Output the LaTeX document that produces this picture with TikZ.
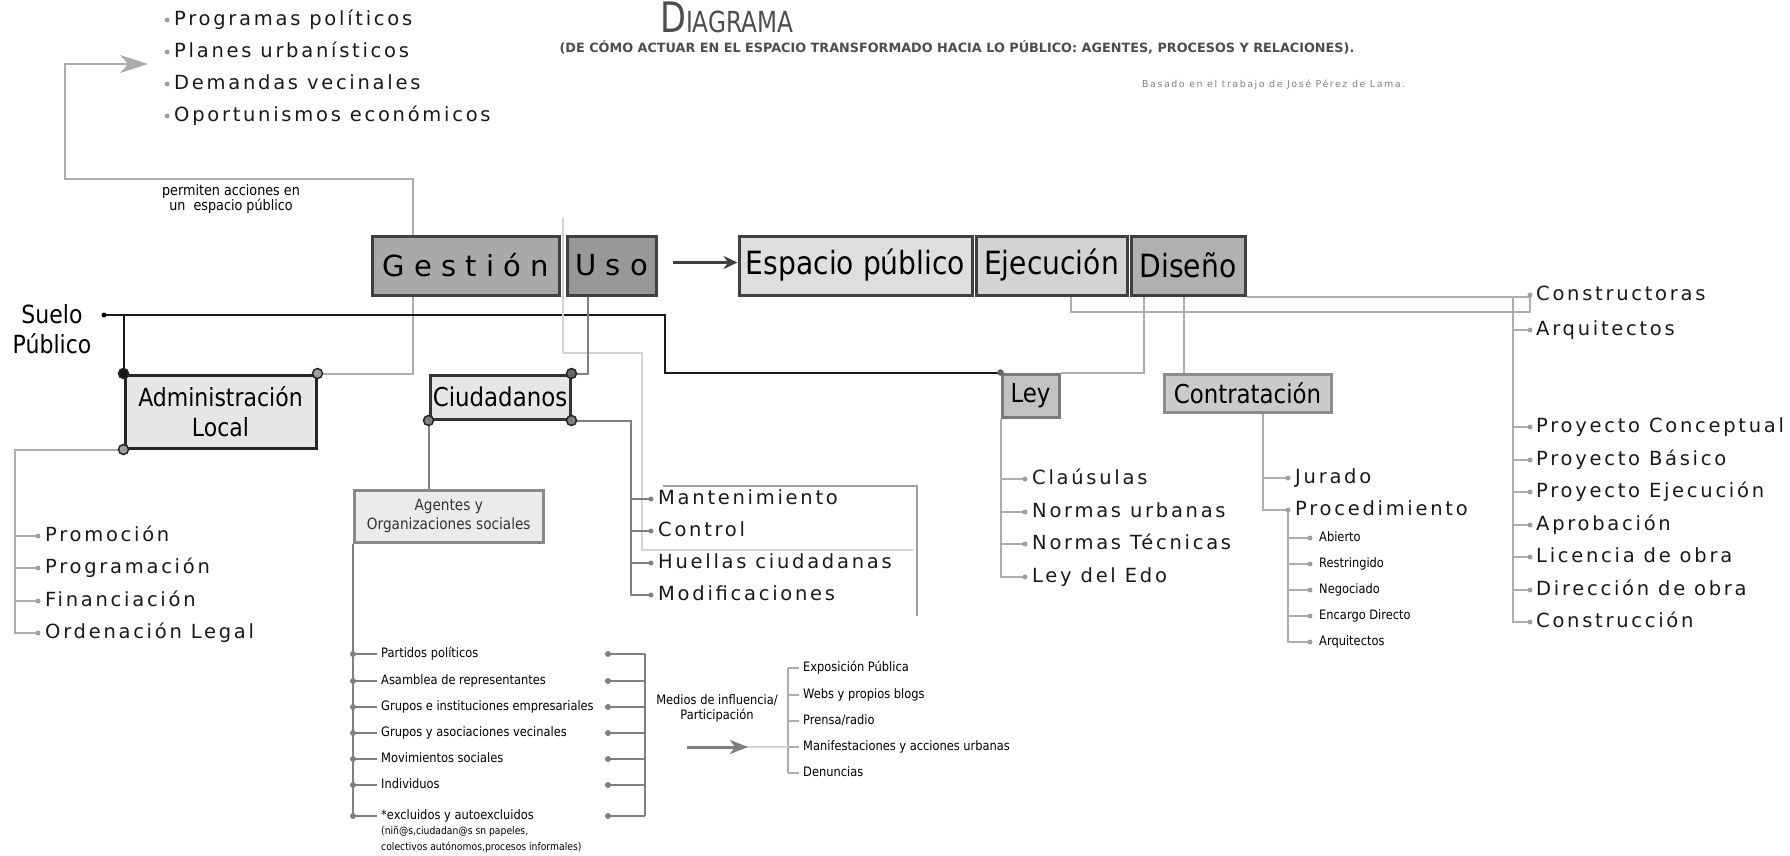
\documentclass[tikz,border=0pt]{standalone}
\usepackage{fontspec}
\setmainfont{DejaVu Sans}
\newfontfamily\spacedfont[LetterSpace=14]{DejaVu Sans}
\newfontfamily\narrowfont[FakeStretch=0.88]{DejaVu Sans}
\newfontfamily\titlefont[FakeStretch=0.8]{DejaVu Sans}
\newfontfamily\basadofont[LetterSpace=16]{DejaVu Sans}
\usetikzlibrary{arrows.meta,calc}

\definecolor{boxline}{HTML}{404040}
\definecolor{gestfill}{HTML}{A9A9A9}
\definecolor{usofill}{HTML}{989898}
\definecolor{espfill}{HTML}{DEDEDE}
\definecolor{ejefill}{HTML}{D3D3D3}
\definecolor{disfill}{HTML}{B0B0B0}
\definecolor{palefill}{HTML}{E6E6E6}
\definecolor{agfill}{HTML}{EBEBEB}
\definecolor{agline}{HTML}{8A8A8A}
\definecolor{leyfill}{HTML}{C2C2C2}
\definecolor{leyline}{HTML}{7A7A7A}
\definecolor{contfill}{HTML}{CACACA}
\definecolor{contline}{HTML}{8C8C8C}
\definecolor{linegray}{HTML}{ADADAD}
\definecolor{midgray}{HTML}{7F7F7F}
\definecolor{palegray}{HTML}{D4D4D4}
\definecolor{bulgray}{HTML}{A0A0A0}
\definecolor{textgray}{HTML}{4D4D4D}

\begin{document}
\begin{tikzpicture}[x=1pt,y=-1pt,
  box/.style={draw=boxline,line width=3pt,inner sep=0pt,font=\narrowfont\fontsize{32}{32}\selectfont},
  item/.style={anchor=west,inner xsep=7pt,inner ysep=0pt,text height=14pt,text depth=4pt,text=black!90,font=\spacedfont\fontsize{19.5}{21}\selectfont},
  smallitem/.style={anchor=west,inner xsep=4pt,inner ysep=0pt,text height=10pt,text depth=3pt,font=\narrowfont\fontsize{13}{15}\selectfont},
  grayline/.style={draw=linegray,line width=2pt},
  midline/.style={draw=midgray,line width=2pt},
  paleline/.style={draw=palegray,line width=1.2pt},
  blackline/.style={draw=black!90,line width=2pt},
  corner/.style={draw=black!85,line width=1.5pt,fill=#1},
  corner/.default=midgray]

\useasboundingbox (0,0) rectangle (1790,855);

\node[anchor=base west,inner sep=0pt,text=textgray,font=\titlefont] (titulo) at (660,32)
  {\fontsize{42}{42}\selectfont D\fontsize{29}{29}\selectfont IAGRAMA};
\node[anchor=base,inner sep=0pt,text=textgray,font=\bfseries\fontsize{12.8}{14}\selectfont] (subtitulo) at (957,52)
  {(DE CÓMO ACTUAR EN EL ESPACIO TRANSFORMADO HACIA LO PÚBLICO: AGENTES, PROCESOS Y RELACIONES).};
\node[anchor=base west,inner sep=0pt,text=gray,font=\basadofont\fontsize{9.5}{10}\selectfont] (basado) at (1142,87)
  {Basado en el trabajo de José Pérez de Lama.};

\node[item] (progpol) at (167,20) {Programas políticos};
\node[item] (planes) at (167,52) {Planes urbanísticos};
\node[item] (demandas) at (167,84) {Demandas vecinales};
\node[item] (oport) at (167,116) {Oportunismos económicos};
\foreach \n in {progpol,planes,demandas,oport}
  \fill[bulgray] (\n.west) circle (2.5pt);
\coordinate (listtip) at (148,64);

\node[align=center,inner sep=0pt,font=\narrowfont\fontsize{14.5}{15}\selectfont] (permiten) at (231,199)
  {permiten acciones en\\un~ espacio público};

\node[box,fill=gestfill,minimum width=187pt,minimum height=59pt,font=\fontsize{29}{29}\selectfont] (gestion) at (465.5,265.5) {G e s t i ó n};
\node[box,fill=usofill,minimum width=89pt,minimum height=59pt,font=\fontsize{29}{29}\selectfont] (uso) at (611.5,265.5) {U s o};
\node[box,fill=espfill,minimum width=233pt,minimum height=59pt] (espacio) at (855.5,265.5) {Espacio público};
\node[box,fill=ejefill,minimum width=151pt,minimum height=59pt] (ejecucion) at (1051.5,265.5) {Ejecución};
\node[box,fill=disfill,minimum width=114pt,minimum height=59pt] (diseno) at (1188,265.5) {Diseño};

\draw[line width=3pt,draw=boxline,-{Stealth[length=14pt,width=13pt]}] ([xshift=15pt,yshift=3pt]uso.east) -- ([yshift=3pt]espacio.west);

\node[align=center,inner sep=0pt,font=\narrowfont\fontsize{25}{30}\selectfont] (suelo) at (52,329) {Suelo\\Público};
\coordinate (sdot) at (104,315);
\coordinate (bend) at (665,315);

\node[box,fill=palefill,draw=black!85,minimum width=191pt,minimum height=73pt,align=center,font=\narrowfont\fontsize{25}{30}\selectfont] (admin) at (220.5,411.5) {Administración\\Local};
\node[box,fill=palefill,draw=black!80,minimum width=140pt,minimum height=44pt,font=\narrowfont\fontsize{26}{26}\selectfont] (ciud) at (500,397) {Ciudadanos};
\node[box,fill=agfill,draw=agline,minimum width=188.5pt,minimum height=52pt,align=center,text=black!80,font=\narrowfont\fontsize{15.5}{19}\selectfont] (agentes) at (448.75,516) {Agentes y\\Organizaciones sociales};
\node[box,fill=leyfill,draw=leyline,minimum width=57pt,minimum height=43pt,font=\narrowfont\fontsize{26}{26}\selectfont] (ley) at (1030.5,395.5) {Ley};
\node[box,fill=contfill,draw=contline,minimum width=167pt,minimum height=38pt,font=\narrowfont\fontsize{26}{26}\selectfont] (cont) at (1247.5,393) {Contratación};

\draw[grayline] (admin.north east) -| ([xshift=-52.5pt]gestion.south);
\draw[grayline,-{Stealth[length=28pt,width=18pt,inset=8pt]}] ([xshift=-52.5pt]gestion.north) -- ++(0,-56) -- ++(-348,0) |- (listtip);

\draw[blackline] (sdot) -- (bend) |- (ley.north west);
\draw[blackline] (sdot -| admin.north west) -- (admin.north west);
\fill (sdot) circle (2.5pt);
\filldraw[draw=black!60,fill=black!60] (ley.north west) circle (3pt);
\filldraw[corner=black!90] (admin.north west) circle (5pt);
\filldraw[corner=bulgray] (admin.north east) circle (5pt);

\draw[paleline] (563,218) -- (563,353) -- (642,353) -- (642,550) -- (913,550);
\draw[draw=gray!75,line width=1.5pt] (663,486) -- (917,486) -- (917,616);

\node[item] (prom) at (38,536) {Promoción};
\node[item] (progr) at (38,568) {Programación};
\node[item] (fin) at (38,601) {Financiación};
\node[item] (orden) at (38,633) {Ordenación Legal};
\coordinate (ax) at (15,0);
\foreach \n in {prom,progr,fin,orden}{
  \draw[grayline] (admin.south west) -| (ax |- \n.west) -- (\n.west);
  \fill[bulgray] (\n.west) circle (2.5pt);
}
\filldraw[corner=bulgray] (admin.south west) circle (5pt);

\node[item] (mant) at (651,499) {Mantenimiento};
\node[item] (ctrl) at (651,531) {Control};
\node[item] (huellas) at (651,563) {Huellas ciudadanas};
\node[item] (modif) at (651,595) {Modificaciones};
\draw[midline] ([xshift=-24pt]uso.south) |- (ciud.north east);
\draw[midline] (ciud.south west) -- (ciud.south west |- agentes.north);
\foreach \n in {mant,ctrl,huellas,modif}{
  \draw[midline] (ciud.south east) -- ++(59,0) |- (\n.west);
  \fill[midgray] (\n.west) circle (2.5pt);
}
\filldraw[corner=black!60] (ciud.north east) circle (5pt);
\filldraw[corner=midgray] (ciud.south west) circle (5pt);
\filldraw[corner=midgray] (ciud.south east) circle (5pt);

\node[smallitem] (partidos) at (377,654) {Partidos políticos};
\node[smallitem] (asamblea) at (377,681) {Asamblea de representantes};
\node[smallitem] (empres) at (377,707) {Grupos e instituciones empresariales};
\node[smallitem] (vecinales) at (377,733) {Grupos y asociaciones vecinales};
\node[smallitem] (movim) at (377,759) {Movimientos sociales};
\node[smallitem] (indiv) at (377,785) {Individuos};
\node[smallitem] (excl) at (377,816) {*excluidos y autoexcluidos};
\node[anchor=north west,inner sep=0pt,align=left,font=\narrowfont\fontsize{10.5}{16}\selectfont] (exclnota) at (381,826)
  {(niñ@s,ciudadan@s sn papeles,\\colectivos autónomos,procesos informales)};
\coordinate (bd) at (608,0);
\coordinate (bx) at (645,0);
\foreach \n in {partidos,asamblea,empres,vecinales,movim,indiv,excl}{
  \draw[midline] (agentes.south west) |- (\n.west);
  \fill[midgray] (agentes.south west |- \n.west) circle (3pt);
  \draw[midline] (bd |- \n.west) -- (bx |- \n.west);
  \fill[midgray] (bd |- \n.west) circle (3pt);
}
\draw[midline] (bx |- partidos.west) -- (bx |- excl.west);

\node[align=center,inner sep=0pt,font=\narrowfont\fontsize{13}{15}\selectfont] (medios) at (717,708) {Medios de influencia/\\Participación};
\node[smallitem] (expo) at (799,668) {Exposición Pública};
\node[smallitem] (webs) at (799,695) {Webs y propios blogs};
\node[smallitem] (prensa) at (799,721) {Prensa/radio};
\node[smallitem] (manif) at (799,747) {Manifestaciones y acciones urbanas};
\node[smallitem] (denun) at (799,773) {Denuncias};
\coordinate (mx) at (788,0);
\coordinate (marr) at (687,747);
\foreach \n in {expo,webs,prensa,manif,denun}
  \draw[grayline,line width=1.5pt] (\n.west) -- (mx |- \n.west);
\draw[grayline,line width=1.5pt] (mx |- expo.west) -- (mx |- denun.west);
\draw[paleline] ([xshift=55pt]marr) -- (mx |- manif.west);
\draw[draw=midgray,line width=3pt,-{Stealth[length=18pt,width=14pt,inset=5pt]}] (marr) -- ++(61,0);

\node[item] (clau) at (1025,479) {Claúsulas};
\node[item] (nurb) at (1025,512) {Normas urbanas};
\node[item] (ntec) at (1025,544) {Normas Técnicas};
\node[item] (ledo) at (1025,577) {Ley del Edo};
\foreach \n in {clau,nurb,ntec,ledo}{
  \draw[grayline] (ley.south west) |- (\n.west);
  \fill[bulgray] (\n.west) circle (2.5pt);
}
\draw[grayline] ([xshift=14pt]diseno.south west) |- (ley.north east);
\draw[grayline] ([xshift=54pt]diseno.south west) -- ([xshift=54pt]diseno.south west |- cont.north);

\node[item] (jurado) at (1288,478) {Jurado};
\node[item] (proc) at (1288,510) {Procedimiento};
\foreach \n in {jurado,proc}{
  \draw[grayline] ([xshift=15pt]cont.south) |- (\n.west);
  \fill[bulgray] (\n.west) circle (2.5pt);
}
\node[smallitem,inner xsep=9pt] (abierto) at (1310,538) {Abierto};
\node[smallitem,inner xsep=9pt] (restr) at (1310,564) {Restringido};
\node[smallitem,inner xsep=9pt] (nego) at (1310,590) {Negociado};
\node[smallitem,inner xsep=9pt] (encargo) at (1310,616) {Encargo Directo};
\node[smallitem,inner xsep=9pt] (arqs) at (1310,642) {Arquitectos};
\foreach \n in {abierto,restr,nego,encargo,arqs}{
  \draw[grayline,line width=1.5pt] (proc.west) |- (\n.west);
  \fill[bulgray] (\n.west) circle (2.5pt);
}

\node[item,inner xsep=6pt] (cons) at (1530,295) {Constructoras};
\node[item,inner xsep=6pt] (arq) at (1530,330) {Arquitectos};
\node[item,inner xsep=6pt] (pconc) at (1530,427) {Proyecto Conceptual};
\node[item,inner xsep=6pt] (pbas) at (1530,460) {Proyecto Básico};
\node[item,inner xsep=6pt] (pejec) at (1530,492) {Proyecto Ejecución};
\node[item,inner xsep=6pt] (aprob) at (1530,525) {Aprobación};
\node[item,inner xsep=6pt] (lic) at (1530,557) {Licencia de obra};
\node[item,inner xsep=6pt] (dir) at (1530,590) {Dirección de obra};
\node[item,inner xsep=6pt] (constr) at (1530,622) {Construcción};
\coordinate (rx) at (1513,0);
\draw[grayline] (diseno.south east) -- (diseno.south east -| cons.west);
\draw[grayline] ([xshift=96pt]ejecucion.south west) -- ++(0,15) -| (cons.west);
\foreach \n in {arq,pconc,pbas,pejec,aprob,lic,dir,constr}
  \draw[grayline] (rx |- diseno.south east) |- (\n.west);
\foreach \n in {cons,arq,pconc,pbas,pejec,aprob,lic,dir,constr}
  \fill[bulgray] (\n.west) circle (2.5pt);

\end{tikzpicture}
\end{document}
